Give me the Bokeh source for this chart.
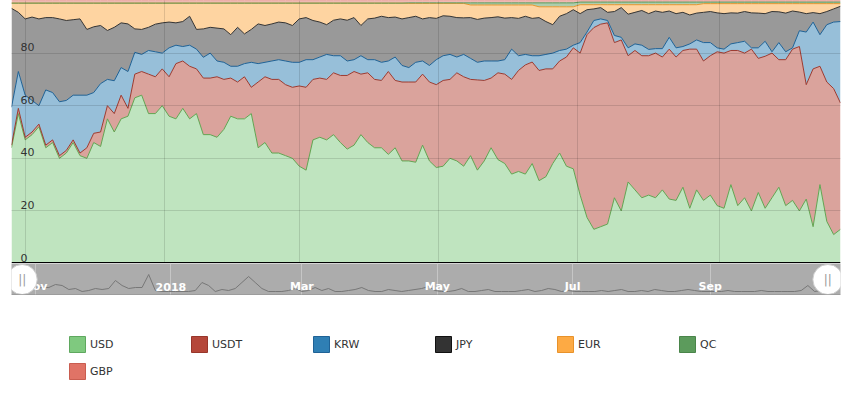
import pandas as pd
from bokeh.plotting import figure
from bokeh.layouts import column
from bokeh.models import (ColumnDataSource, Range1d, MonthsTicker, FixedTicker,
                          Span, Legend, LegendItem)
from bokeh.core.properties import value
from bokeh.embed import file_html
from bokeh.resources import INLINE


# one reading every three days, 26 Oct 2017 .. 24 Oct 2018
dates = pd.date_range("2017-10-26", periods=122, freq="3D")

currencies = ["USD", "USDT", "KRW", "JPY", "EUR", "QC", "GBP"]

# share of volume per quote currency (%)
usd = [44, 57, 47, 49, 52, 44, 46, 40, 42, 46,
       41, 40, 46, 44.5, 55, 50, 55, 56, 63, 64,
       57, 57, 60, 56, 55, 59, 55, 57, 49, 49,
       48, 51, 56, 55, 55, 57, 44, 46, 42, 42,
       41, 40, 37, 35.5, 47, 48, 47, 49, 46, 43.5,
       45, 49, 46, 44, 44, 41.5, 44, 39, 39, 38.5,
       45, 39, 36.5, 37, 40, 39, 37, 41, 35.5, 39,
       44, 39.5, 38, 34, 35, 34, 38, 31.5, 33, 38,
       42, 37, 36, 26, 17.5, 13, 14, 15, 25, 20,
       31, 28, 25, 26, 25, 28, 24.5, 24, 29, 21,
       28, 24, 26, 22, 21, 30, 22, 25, 20, 27,
       21, 25, 29, 22, 24, 20, 24.5, 14, 30, 16,
       11, 13]
usdt = [1, 2, 1, 1, 1, 1, 1, 1, 1, 1,
        1, 4, 3.5, 5.5, 5, 7, 9, 3, 9, 9,
        15, 14, 14, 15, 21, 18, 20, 17, 21.5, 21.5,
        23, 19, 14.5, 14, 16, 10, 25, 25, 28, 28,
        27, 27, 30.5, 31.5, 23, 22.5, 23, 23.5, 25.5, 28,
        28, 23, 26.5, 26, 25.6, 31.5, 25.6, 30, 30, 30.5,
        27, 30, 31.5, 32.6, 30, 33.5, 34, 29, 34.3, 30.6,
        26.5, 33, 34, 36, 38.4, 41.5, 38.6, 41.9, 41, 36,
        35, 41.5, 46, 54, 69.5, 76.7, 77, 76.5, 59, 65,
        48, 53, 54, 53, 55, 50.5, 57, 54.5, 52, 60.5,
        53.5, 53, 53, 58.5, 59, 51, 59, 55, 61.5, 51,
        57.8, 55, 48.5, 55.5, 57.5, 62.5, 43.5, 60, 45, 53,
        55.5, 48]
krw = [14.4, 14, 16, 12, 7, 21, 18, 20.5, 19, 17,
       22, 20, 15.5, 18.4, 10, 12.5, 10.5, 14, 8.3, 6.5,
       9, 9.5, 6, 11, 7, 5.5, 8, 7.5, 7.9, 9.5,
       6, 6.5, 4.5, 6, 5, 9.5, 7, 5.5, 7, 7.5,
       9, 9.5, 9, 10.5, 7.5, 8, 9.5, 6.5, 7.5, 5.5,
       4.5, 7, 5, 7.5, 6.9, 4, 8.9, 6.3, 5.5, 7.5,
       5, 6.3, 9.5, 9.4, 9.5, 6, 8.5, 8, 6.7, 7.4,
       6.5, 4.5, 5.5, 11.5, 5.6, 4, 2.4, 5.6, 5.5, 6,
       4, 3, 1, 4, 1, 2.7, 2, 0.9, 2.7, 1,
       3, 2.5, 4, 2.4, 1.7, 3.2, 4.5, 3.5, 1.5, 2,
       3.5, 7, 5, 1.5, 1.5, 2.5, 3, 4.5, 0.5, 4,
       5.7, 0.5, 6.5, 3, 0.5, 6, 20, 17.8, 12, 21.8,
       25.3, 31]
jpy = [37.6, 22.5, 29, 31.7, 33, 27.5, 28.5, 31.5, 30.4, 28.7,
       29, 25, 25, 22.1, 18.6, 20.3, 17, 18.1, 8.9, 9.5,
       8.8, 10.5, 11.5, 9.8, 8.5, 9.5, 11, 7.5, 10.8, 9.8,
       12.5, 12.7, 12, 14.8, 11.3, 12.5, 15.1, 14, 14.1, 14.3,
       14.5, 14, 16.5, 16, 14.9, 13.3, 11.3, 13.5, 14, 15.5,
       16, 11.5, 15.5, 15.8, 17.5, 16.5, 15.2, 17.7, 19, 17.5,
       16, 18.2, 15.7, 15.2, 14.5, 15, 13.9, 15.5, 16.3, 16.3,
       16.5, 16.8, 15.8, 12, 14.2, 14.5, 14.2, 14.5, 12.5, 10.8,
       13, 13.5, 13.5, 11, 8.5, 4.4, 4.3, 3.1, 9.1, 11.3,
       12.8, 12, 13.2, 13.6, 14.3, 13.8, 10, 13, 13, 11,
       10.2, 11.5, 11.8, 13.3, 13.5, 11.8, 11.2, 11.3, 13.3, 13.2,
       10.5, 15.3, 11.7, 14.7, 14, 7.1, 7, 3.6, 8, 5,
       5, 5.8]
eur = [2, 3.5, 6, 5.3, 6, 5.5, 5.5, 6, 6.6, 6.3,
       6, 10, 9, 8.5, 10.4, 9.2, 7.5, 7.9, 9.8, 10,
       9.2, 8, 7.5, 7.2, 7.5, 7, 5, 10, 9.8, 9.2,
       9.5, 9.8, 12, 9.2, 11.7, 10, 7.9, 8.5, 7.9, 7.2,
       7.5, 8.5, 6, 5.5, 6.6, 7.2, 8.2, 6.5, 6, 6.5,
       5.5, 8.5, 6, 5.7, 5, 5.5, 5.3, 6, 5.4, 4.9,
       5.9, 5.4, 5.7, 4.7, 4.9, 5.4, 5.5, 4.8, 5.5, 5,
       4.8, 4.5, 5, 4.8, 5.1, 4.3, 5.1, 4.1, 5.6, 6.8,
       3.6, 2.6, 1.1, 3.4, 1.9, 1.6, 1.1, 2.9, 2.6, 1.1,
       3.6, 2.9, 2.2, 3.4, 2.4, 2.9, 2.4, 3.4, 2.9, 3.9,
       3.2, 3.3, 3.0, 3.5, 3.8, 3.5, 3.6, 3.0, 3.5, 3.6,
       3.8, 3.0, 3.1, 3.6, 2.8, 3.2, 3.8, 3.4, 3.8, 3.0,
       2.0, 1.0]
qc = [0, 0, 0, 0, 0, 0, 0, 0, 0, 0,
      0, 0, 0, 0, 0, 0, 0, 0, 0, 0,
      0, 0, 0, 0, 0, 0, 0, 0, 0, 0,
      0, 0, 0, 0, 0, 0, 0, 0, 0, 0,
      0, 0, 0, 0, 0, 0, 0, 0, 0, 0,
      0, 0, 0, 0, 0, 0, 0, 0, 0.2, 0.2,
      0.2, 0.2, 0.2, 0.2, 0.2, 0.2, 0.2, 0.8, 0.8, 0.8,
      0.8, 0.8, 0.8, 0.8, 0.8, 0.8, 0.8, 1.5, 1.5, 1.5,
      1.5, 1.5, 1.5, 1.0, 1.0, 1.0, 1.0, 1.0, 1.0, 1.0,
      1.0, 1.0, 1.0, 1.0, 1.0, 1.0, 1.0, 1.0, 1.0, 1.0,
      1.0, 0.6, 0.6, 0.6, 0.6, 0.6, 0.6, 0.6, 0.6, 0.6,
      0.6, 0.6, 0.6, 0.6, 0.6, 0.6, 0.6, 0.6, 0.6, 0.6,
      0.6, 0.6]
gbp = [1, 1, 1, 1, 1, 1, 1, 1, 1, 1,
       1, 1, 1, 1, 1, 1, 1, 1, 1, 1,
       1, 1, 1, 1, 1, 1, 1, 1, 1, 1,
       1, 1, 1, 1, 1, 1, 1, 1, 1, 1,
       1, 1, 1, 1, 1, 1, 1, 1, 1, 1,
       1, 1, 1, 1, 1, 1, 1, 1, 0.9, 0.9,
       0.9, 0.9, 0.9, 0.9, 0.9, 0.9, 0.9, 0.9, 0.9, 0.9,
       0.9, 0.9, 0.9, 0.9, 0.9, 0.9, 0.9, 0.9, 0.9, 0.9,
       0.9, 0.9, 0.9, 0.6, 0.6, 0.6, 0.6, 0.6, 0.6, 0.6,
       0.6, 0.6, 0.6, 0.6, 0.6, 0.6, 0.6, 0.6, 0.6, 0.6,
       0.6, 0.6, 0.6, 0.6, 0.6, 0.6, 0.6, 0.6, 0.6, 0.6,
       0.6, 0.6, 0.6, 0.6, 0.6, 0.6, 0.6, 0.6, 0.6, 0.6,
       0.6, 0.6]

# navigator series (relative volume)
nav_volume = [5, 6, 6, 7, 7, 10, 9, 5, 6, 3,
              4, 6, 5, 6, 14, 9, 6, 7, 7, 20,
              4, 3, 3, 3, 3, 3, 4, 12, 9, 3,
              5, 4, 6, 12, 18, 12, 6, 3, 3, 3,
              4, 6, 3, 4, 7, 4, 6, 3, 3, 4,
              5, 7, 4, 3, 3, 5, 4, 3, 4, 5,
              6, 8, 4, 3, 3, 4, 6, 3, 3, 4,
              5, 3, 3, 3, 3, 4, 5, 3, 4, 6,
              5, 3, 4, 3, 3, 3, 3, 4, 3, 4,
              5, 3, 3, 4, 3, 5, 4, 3, 3, 4,
              5, 4, 3, 3, 3, 3, 4, 3, 3, 3,
              3, 4, 3, 3, 3, 3, 3, 4, 9, 3,
              4, 3]

ytick_vals = [0, 20, 40, 60, 80]
ytick_text = ["0", "20", "40", "60", "80"]
month_ticks = pd.to_datetime(["2017-11-01", "2018-01-01", "2018-03-01",
                              "2018-05-01", "2018-07-01", "2018-09-01"])
month_text = ["Nov", "2018", "Mar", "May", "Jul", "Sep"]

fill_colors = ["#7fc97f", "#b5473a", "#2f7fb4", "#333333", "#fdaa44", "#5c9b5c", "#e07366"]
line_colors = ["#62a552", "#9d3a2f", "#1f6296", "#333333", "#e8962f", "#5c9b5c", "#e07366"]
edge_colors = ["#5fa85f", "#98362b", "#1f6296", "#111111", "#e8922a", "#4a854a", "#c95d50"]
FONT = "DejaVu Sans"

# percent stacking
df = pd.DataFrame(dict(zip(currencies, [usd, usdt, krw, jpy, eur, qc, gbp])))
df = df.div(df.sum(axis=1), axis=0) * 100
df["date"] = dates
src = ColumnDataSource(df)

W = 853
FRAME_L, FRAME_R = 11, 13   # borders around the plot frame
frame_w = W - FRAME_L - FRAME_R

#* main stacked area chart
p = figure(width=W, height=263, x_axis_type="datetime",
           x_range=Range1d(dates[0], dates[-1]), y_range=Range1d(0, 100),
           x_axis_location=None, y_axis_location=None,
           toolbar_location=None, output_backend="svg",
           min_border_left=FRAME_L, min_border_right=FRAME_R,
           min_border_top=0, min_border_bottom=0,
           outline_line_color=None)

p.varea_stack(currencies, x="date", fill_color=fill_colors, fill_alpha=0.5, source=src)
p.vline_stack(currencies, x="date", line_color=line_colors, line_width=1, source=src)

p.xgrid.ticker = MonthsTicker(months=[0, 2, 4, 6, 8, 10])
p.ygrid.ticker = FixedTicker(ticks=ytick_vals)
p.grid.grid_line_color = "#000000"
p.grid.grid_line_alpha = 0.12
p.grid.level = "overlay"

ylab = ColumnDataSource(dict(x=[dates[0]] * len(ytick_vals), y=ytick_vals, t=ytick_text))
p.text(x="x", y="y", text="t", source=ylab, x_offset=9, y_offset=-2,
       text_baseline="bottom", text_font=value(FONT), text_font_size="11px",
       text_color="#333333")

p.add_layout(Span(location=0, dimension="width", line_color="black", line_width=3))

#* navigator strip
day_per_px = (dates[-1] - dates[0]) / frame_w
nav = figure(width=W, height=32, x_axis_type="datetime",
             x_range=Range1d(dates[0] - FRAME_L * day_per_px,
                             dates[-1] + FRAME_R * day_per_px),
             y_range=Range1d(-1, 31),
             x_axis_location=None, y_axis_location=None,
             toolbar_location=None, output_backend="svg",
             min_border=0, outline_line_color=None,
             background_fill_color="#acacac", border_fill_color="white")
nav.ygrid.visible = False
nav.xgrid.ticker = MonthsTicker(months=[0, 2, 4, 6, 8, 10])
nav.xgrid.grid_line_color = "#c6c6c6"

nav_src = ColumnDataSource(dict(date=dates, volume=nav_volume))
nav.line(x="date", y="volume", source=nav_src, line_color="#777777", line_width=1)

mlab = ColumnDataSource(dict(x=month_ticks, y=[0] * len(month_ticks), t=month_text))
nav.text(x="x", y="y", text="t", source=mlab, y_offset=-8,
         text_align="center", text_baseline="middle",
         text_font=value(FONT), text_font_size="11px", text_font_style="bold",
         text_color="white")
nav.add_layout(Span(location=-0.5, dimension="width", line_color="#8c8c8c", line_width=1))

handles = ColumnDataSource(dict(x=[dates[0], dates[-1]], y=[15, 15], t=["||", "||"]))
nav.scatter(x="x", y="y", source=handles, marker="circle", size=30,
            fill_color="white", line_color="#cccccc")
nav.text(x="x", y="y", text="t", source=handles, text_align="center",
         text_baseline="middle", text_color="#9a9a9a", text_font_size="12px",
         text_font=value(FONT))

#* legend (swatches drawn from hidden renderers of the first reading)
leg = figure(width=W, height=105, x_axis_type="datetime",
             x_axis_location=None, y_axis_location=None,
             toolbar_location=None, output_backend="svg",
             min_border=0, outline_line_color=None)
leg.grid.visible = False

items = []
for name, fc, ec in zip(currencies, fill_colors, edge_colors):
    r = leg.quad(left=[dates[0]], right=[dates[1]], bottom=[0], top=[df[name].iloc[0]],
                 fill_color=fc, line_color=ec, visible=False)
    items.append(LegendItem(label=name, renderers=[r]))

legend = Legend(items=items, orientation="horizontal", ncols=6, location=(56, 19),
                glyph_width=20, glyph_height=20, label_standoff=3,
                label_width=92, label_height=20, spacing=7,
                padding=0, margin=0, border_line_color=None, background_fill_alpha=0,
                inactive_fill_alpha=0,
                label_text_font=FONT, label_text_font_size="11px",
                label_text_color="#333333")
leg.add_layout(legend)

layout = column(p, nav, leg)
open("out.html", "w").write(file_html(layout, INLINE))
